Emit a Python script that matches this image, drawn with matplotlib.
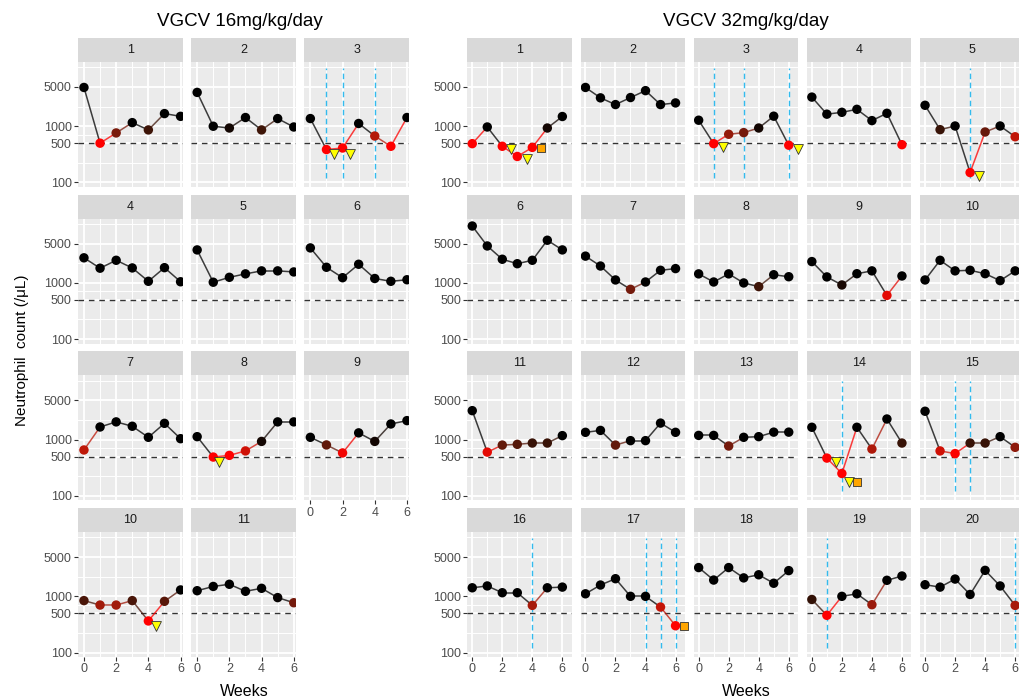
import matplotlib.pyplot as plt
from matplotlib.colors import LinearSegmentedColormap
from matplotlib.ticker import NullFormatter

plt.rcParams['font.family'] = ['Liberation Sans', 'DejaVu Sans']

# weekly neutrophil counts (/uL), one list per patient
weeks = [0, 1, 2, 3, 4, 5, 6]

anc_16 = [
    [4900, 500, 760, 1160, 860, 1680, 1500],
    [4000, 1000, 930, 1430, 860, 1370, 970],
    [1370, 385, 410, 1120, 670, 440, 1430],
    [2800, 1830, 2530, 1850, 1070, 1870, 1050],
    [3870, 1030, 1260, 1450, 1640, 1640, 1570],
    [4200, 1900, 1240, 2150, 1200, 1070, 1140],
    [655, 1680, 2070, 1730, 1100, 1950, 1040],
    [1130, 490, 525, 630, 930, 2070, 2070],
    [1100, 805, 580, 1320, 930, 1900, 2180],
    [840, 700, 700, 840, 365, 815, 1300],
    [1260, 1500, 1640, 1230, 1390, 950, 770],
]

anc_32 = [
    [490, 970, 440, 290, 420, 930, 1490],
    [4900, 3200, 2430, 3240, 4300, 2430, 2600],
    [1280, 490, 720, 770, 930, 1510, 460],
    [3300, 1640, 1770, 2000, 1260, 1700, 470],
    [2360, 870, 1010, 150, 790, 1010, 650],
    [10300, 4550, 2640, 2200, 2530, 5750, 3870],
    [3000, 2000, 1130, 770, 1040, 1680, 1800],
    [1450, 1040, 1450, 1000, 860, 1400, 1290],
    [2400, 1280, 920, 1460, 1640, 600, 1330],
    [1130, 2530, 1640, 1680, 1460, 1100, 1640],
    [3280, 600, 800, 825, 870, 870, 1180],
    [1350, 1460, 800, 960, 960, 1970, 1350],
    [1190, 1190, 770, 1100, 1130, 1360, 1360],
    [1660, 470, 250, 1660, 680, 2330, 870],
    [3200, 630, 565, 870, 870, 1130, 730],
    [1420, 1530, 1160, 1160, 690, 1420, 1460],
    [1110, 1590, 2060, 1000, 1000, 645, 300],
    [3250, 1950, 3250, 2130, 2420, 1710, 2870],
    [880, 460, 1000, 1110, 710, 1930, 2300],
    [1610, 1460, 2030, 1080, 2900, 1530, 690],
]

# events: (patient, week, count)
tri_16 = [(3, 1.47, 318), (3, 2.47, 325), (8, 1.38, 395), (10, 4.5, 300)]
sq_16 = []
vline_16 = [(3, 1), (3, 2), (3, 4)]

tri_32 = [(1, 2.6, 390), (1, 3.65, 260), (3, 1.6, 430), (3, 6.6, 390),
          (5, 3.6, 130), (14, 1.6, 400), (14, 2.45, 180)]
sq_32 = [(1, 4.55, 410), (14, 3.0, 180), (17, 6.55, 300)]
vline_32 = [(3, 1), (3, 3), (3, 6), (5, 3), (14, 2), (15, 2), (15, 3),
            (16, 4), (17, 4), (17, 5), (17, 6), (19, 1), (20, 6)]

W, H = 1019, 700
fig = plt.figure(figsize=(W / 100, H / 100), dpi=100)

cmap = LinearSegmentedColormap.from_list(
    'anc', ['#FF0000', '#BA1909', '#7A1B0C', '#3F1508', '#000000'])


def anc_color(v):
    t = min(max((v - 560) / 400.0, 0.0), 1.0)
    return cmap(float(t))


def px_axes(x, y, w, h):
    return fig.add_axes([x / W, 1 - (y + h) / H, w / W, h / H])


def draw_group(vals, tris, sqs, vlines, left, ncol, xlim):
    n = len(vals)
    for i, v in enumerate(vals):
        r, c = divmod(i, ncol)
        x = left + c * 113.2
        top = 38 + r * 156.7

        sax = px_axes(x, top, 104.5, 24)
        sax.set_facecolor('#D9D9D9')
        sax.set_xticks([])
        sax.set_yticks([])
        for s in sax.spines.values():
            s.set_visible(False)
        sax.text(0.5, 0.5, str(i + 1), ha='center', va='center',
                 fontsize=9, color='#1A1A1A', transform=sax.transAxes)

        ax = px_axes(x, top + 24, 104.5, 125)
        ax.set_facecolor('#EBEBEB')
        ax.set_yscale('log')
        ax.set_xlim(xlim)
        ax.set_ylim(83, 13900)
        ax.set_xticks([0, 2, 4, 6])
        ax.set_xticks([1, 3, 5], minor=True)
        ax.set_yticks([100, 500, 1000, 5000])
        ax.set_yticklabels(['100', '500', '1000', '5000'])
        ax.set_yticks([224, 707, 2236, 11180], minor=True)
        ax.yaxis.set_minor_formatter(NullFormatter())
        ax.grid(which='major', color='white', lw=1.3)
        ax.grid(which='minor', color='white', lw=0.7)
        ax.set_axisbelow(True)
        for s in ax.spines.values():
            s.set_visible(False)
        ax.tick_params(which='minor', length=0)
        ax.tick_params(which='major', length=3, width=0.8, color='#333333',
                       labelsize=9, labelcolor='#4D4D4D', pad=1.5)
        if c != 0:
            ax.tick_params(axis='y', which='major', length=0, labelleft=False)
        if i + ncol < n:
            ax.tick_params(axis='x', which='major', length=0, labelbottom=False)

        ax.axhline(500, color='#333333', lw=1.0, ls=(0, (4, 3.5)), zorder=1.5)
        for p, w in vlines:
            if p == i + 1:
                ax.vlines(w, 120, 11000, color='#33BBEE', lw=1.0,
                          ls=(0, (4, 2.5)), zorder=1.8)

        # each segment takes the colour of its starting point
        for j in range(len(v) - 1):
            ax.plot(weeks[j:j + 2], v[j:j + 2], color=anc_color(v[j]),
                    lw=1.1, alpha=0.75, zorder=2)
        ax.scatter(weeks, v, c=[anc_color(a) for a in v], s=46, lw=0, zorder=3)

        for p, w, y in tris:
            if p == i + 1:
                ax.scatter(w, y, marker='v', s=50, facecolor='#FFFF00',
                           edgecolor='#333333', lw=0.6, zorder=4, clip_on=False)
        for p, w, y in sqs:
            if p == i + 1:
                ax.scatter(w, y, marker='s', s=28, facecolor='#FFA500',
                           edgecolor='#333333', lw=0.6, zorder=4, clip_on=False)


draw_group(anc_16, tri_16, sq_16, vline_16, 78, 3, (-0.37, 6.12))
draw_group(anc_32, tri_32, sq_32, vline_32, 467.3, 5, (-0.33, 6.63))

fig.text(240 / W, 1 - 21 / H, 'VGCV 16mg/kg/day', ha='center', va='center',
         fontsize=13.5)
fig.text(746 / W, 1 - 21 / H, 'VGCV 32mg/kg/day', ha='center', va='center',
         fontsize=13.5)
fig.text(244 / W, 1 - 691 / H, 'Weeks', ha='center', va='center', fontsize=11.5)
fig.text(746 / W, 1 - 691 / H, 'Weeks', ha='center', va='center', fontsize=11.5)
fig.text(22 / W, 1 - 350 / H, 'Neutrophil  count (/μL)', ha='center',
         va='center', rotation=90, fontsize=11)

fig.savefig('out.png', dpi=100)
